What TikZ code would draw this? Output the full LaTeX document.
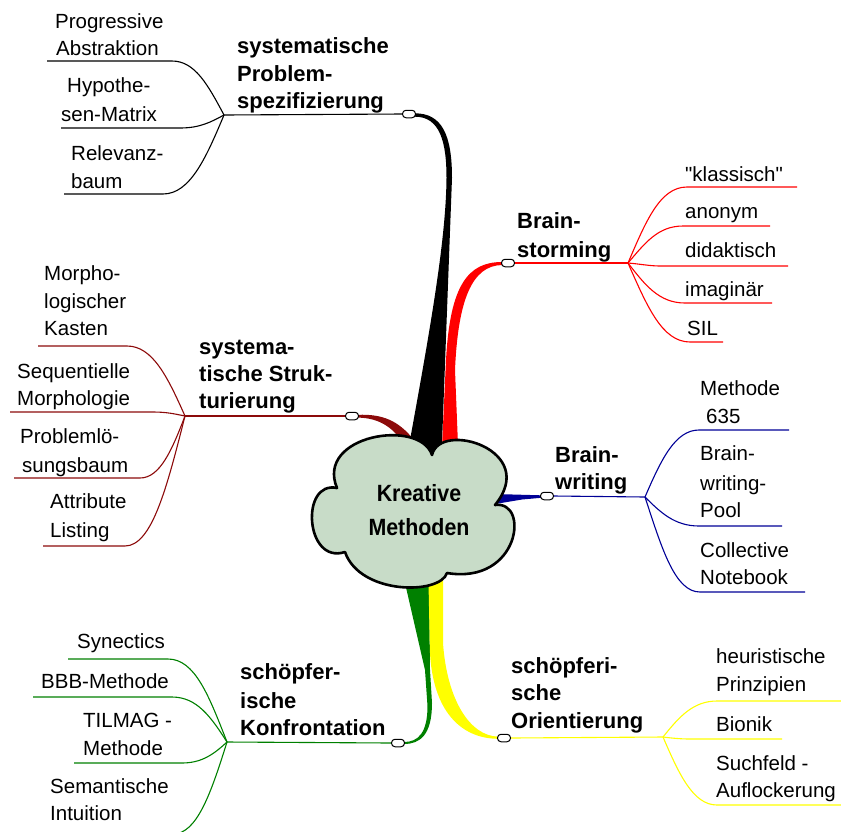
\documentclass[tikz,border=0pt]{standalone}
\usepackage{fontspec}
\usepackage{graphicx}
\setmainfont{Liberation Sans}
\usetikzlibrary{calc}
\definecolor{mred}{RGB}{255,0,0}
\definecolor{mdred}{RGB}{140,10,10}
\definecolor{mblue}{RGB}{0,0,150}
\definecolor{mgreen}{RGB}{0,128,0}
\definecolor{myellow}{RGB}{255,255,0}
\definecolor{cloudfill}{RGB}{200,220,200}
\begin{document}
\begin{tikzpicture}[x=1pt,y=-1pt,
 txt/.style={anchor=base west, inner sep=0pt, font=\fontsize{20.5}{24}\selectfont},
 lbl/.style={anchor=base west, inner sep=0pt, font=\fontsize{22}{26}\selectfont\bfseries},
 twig/.style={line width=1.1pt},
 knob/.style={draw=black, fill=white, rounded corners=3.5pt, minimum width=13pt, minimum height=7.5pt, inner sep=0pt, line width=1pt}]
\useasboundingbox (0,0) rectangle (841,831);

% ---- thick tapered branches ----
\fill[black] (415,113.3) .. controls (442,113.3) and (452,135) .. (452,178) -- (441,470) -- (404,470) -- (410,440) .. controls (430,330) and (446,240) .. (446.5,178) .. controls (446.5,142) and (440,116.7) .. (415,116.7) -- cycle;
\fill[mred] (502,262) .. controls (468,262) and (450,285) .. (446,360) -- (441,470) -- (459,470) -- (455,370) .. controls (458,300) and (472,265.5) .. (502,265) -- cycle;
\fill[mdred] (358,414.8) .. controls (382,414) and (398,420) .. (414,440) -- (404,444) .. controls (392,426) and (378,418) .. (358,417.6) -- cycle;
\fill[mblue] (541,495.3) -- (495,494) -- (495,504) -- (522,499.5) -- (541,497.8) -- cycle;
\fill[mgreen] (402,570) -- (429,570) -- (430,670) -- (432,703) .. controls (432,735) and (420,744) .. (404,744) -- (404,742) .. controls (418,742) and (427.5,733) .. (427.5,706) -- (425,670) -- cycle;
\fill[myellow] (428,560) -- (443,560) -- (443,643) .. controls (447,700) and (470,736) .. (498,736.6) -- (498,738.8) .. controls (460,738.5) and (433,710) .. (430,653) -- cycle;

% ---- cloud ----
\draw[line width=2.6pt, fill=cloudfill, line join=round] (432,455) .. controls (440,420) and (540,450) .. (495,505) .. controls (530,500) and (520,585) .. (447,573) .. controls (440,595) and (360,595) .. (345,552) .. controls (305,565) and (300,480) .. (337,488) .. controls (315,435) and (420,418) .. (432,455) -- cycle;
\node[font=\fontsize{23.5}{34}\selectfont\bfseries, align=center, inner sep=0pt] (core) at (419,510) {\scalebox{0.91}[1]{Kreative}\\\scalebox{0.91}[1]{Methoden}};

% ---- knobs ----
\node[knob] (k1) at (409,114) {};
\node[knob] (k2) at (508,263) {};
\node[knob] (k3) at (547,496) {};
\node[knob] (k4) at (504,738) {};
\node[knob] (k5) at (398,743) {};
\node[knob] (k6) at (352,416) {};

% ---- junctions ----
\coordinate (j1) at (224,115);
\coordinate (j2) at (628,263);
\coordinate (j3) at (645,497);
\coordinate (j4) at (663,737);
\coordinate (j5) at (227,742);
\coordinate (j6) at (185,416);

% ---- black group ----
\coordinate (s11) at (172,61);  \coordinate (e11) at (47,61);
\coordinate (s12) at (180,128); \coordinate (e12) at (61,128);
\coordinate (s13) at (163,194); \coordinate (e13) at (64,194);
\begin{scope}[twig, draw=black]
\draw (k1.west) -- (j1);
\draw (j1) .. controls (208,85) and (195,61) .. (s11) -- (e11);
\draw (j1) .. controls (211,122) and (200,128) .. (s12) -- (e12);
\draw (j1) .. controls (206,158) and (190,194) .. (s13) -- (e13);
\end{scope}

% ---- red group ----
\coordinate (s21) at (687,187); \coordinate (e21) at (797,187);
\coordinate (s22) at (683,226); \coordinate (e22) at (770,226);
\coordinate (s23) at (660,266); \coordinate (e23) at (788,266);
\coordinate (s24) at (685,303); \coordinate (e24) at (772,303);
\coordinate (s25) at (690,342); \coordinate (e25) at (723,342);
\begin{scope}[twig, draw=mred]
\draw (k2.east) -- (j2);
\draw (j2) .. controls (646,221) and (660,187) .. (s21) -- (e21);
\draw (j2) .. controls (645,243) and (658,226) .. (s22) -- (e22);
\draw (j2) .. controls (640,264) and (650,266) .. (s23) -- (e23);
\draw (j2) .. controls (645,285) and (659,303) .. (s24) -- (e24);
\draw (j2) .. controls (647,306) and (662,342) .. (s25) -- (e25);
\end{scope}

% ---- blue group ----
\coordinate (s31) at (699,430); \coordinate (e31) at (789,430);
\coordinate (s32) at (699,526); \coordinate (e32) at (782,526);
\coordinate (s33) at (700,592); \coordinate (e33) at (805,592);
\begin{scope}[twig, draw=mblue]
\draw (k3.east) -- (j3);
\draw (j3) .. controls (661,460) and (675,430) .. (s31) -- (e31);
\draw (j3) .. controls (661,513) and (675,526) .. (s32) -- (e32);
\draw (j3) .. controls (662,549) and (675,592) .. (s33) -- (e33);
\end{scope}

% ---- yellow group ----
\coordinate (s41) at (717,701); \coordinate (e41) at (841,701);
\coordinate (s42) at (690,739); \coordinate (e42) at (782,739);
\coordinate (s43) at (717,805); \coordinate (e43) at (841,805);
\begin{scope}[twig, draw=myellow]
\draw (k4.east) -- (j4);
\draw (j4) .. controls (679,717) and (693,701) .. (s41) -- (e41);
\draw (j4) .. controls (671,738) and (680,739) .. (s42) -- (e42);
\draw (j4) .. controls (679,774) and (693,805) .. (s43) -- (e43);
\end{scope}

% ---- green group ----
\coordinate (s51) at (168,659); \coordinate (e51) at (68,659);
\coordinate (s52) at (172,697); \coordinate (e52) at (33,697);
\coordinate (s53) at (182,763); \coordinate (e53) at (74,763);
\coordinate (s54) at (173,834); \coordinate (e54) at (45,834);
\begin{scope}[twig, draw=mgreen]
\draw (k5.west) -- (j5);
\draw (j5) .. controls (209,696) and (195,659) .. (s51) -- (e51);
\draw (j5) .. controls (211,717) and (197,697) .. (s52) -- (e52);
\draw (j5) .. controls (214,754) and (202,763) .. (s53) -- (e53);
\draw (j5) .. controls (211,793) and (197,834) .. (s54) -- (e54);
\end{scope}

% ---- dark red group ----
\coordinate (s61) at (127,346); \coordinate (e61) at (38,346);
\coordinate (s62) at (153,412); \coordinate (e62) at (10,412);
\coordinate (s63) at (140,478); \coordinate (e63) at (14,478);
\coordinate (s64) at (125,546); \coordinate (e64) at (43,546);
\begin{scope}[twig, draw=mdred]
\draw (k6.west) -- (j6);
\draw (j6) .. controls (168,378) and (153,346) .. (s61) -- (e61);
\draw (j6) .. controls (175,414) and (167,412) .. (s62) -- (e62);
\draw (j6) .. controls (172,450) and (160,478) .. (s63) -- (e63);
\draw (j6) .. controls (167,487) and (152,546) .. (s64) -- (e64);
\end{scope}

% ---- labels: black ----
\node[lbl] (l1a) at (237,53) {systematische};
\node[lbl] (l1b) at (237,81) {Problem-};
\node[lbl] (l1c) at (237,108) {spezifizierung};
\node[txt] (t1a) at (55,28) {Progressive};
\node[txt] (t1b) at (56,55) {Abstraktion};
\node[txt] (t2a) at (67,92) {Hypothe-};
\node[txt] (t2b) at (61,121) {sen-Matrix};
\node[txt] (t3a) at (71,160) {Relevanz-};
\node[txt] (t3b) at (71,188) {baum};

% ---- labels: red ----
\node[lbl] (l2a) at (517,228) {Brain-};
\node[lbl] (l2b) at (517,257) {storming};
\node[txt] (r1) at (685,181) {\addfontfeatures{Ligatures=TeXOff}"klassisch"};
\node[txt] (r2) at (685,218) {anonym};
\node[txt] (r3) at (685,257) {didaktisch};
\node[txt] (r4) at (685,296) {imaginär};
\node[txt] (r5) at (687,335) {SIL};

% ---- labels: blue ----
\node[lbl] (l3a) at (555,462) {Brain-};
\node[lbl] (l3b) at (555,489) {writing};
\node[txt] (b1a) at (700,395) {Methode};
\node[txt] (b1b) at (706,423) {635};
\node[txt] (b2a) at (700,460) {Brain-};
\node[txt] (b2b) at (700,490) {writing-};
\node[txt] (b2c) at (700,517) {Pool};
\node[txt] (b3a) at (700,557) {Collective};
\node[txt] (b3b) at (700,584) {Notebook};

% ---- labels: yellow ----
\node[lbl] (l4a) at (511,673) {schöpferi-};
\node[lbl] (l4b) at (511,700) {sche};
\node[lbl] (l4c) at (511,728) {Orientierung};
\node[txt] (y1a) at (716,663) {heuristische};
\node[txt] (y1b) at (716,691) {Prinzipien};
\node[txt] (y2) at (716,731) {Bionik};
\node[txt] (y3a) at (716,770) {Suchfeld -};
\node[txt] (y3b) at (716,797) {Auflockerung};

% ---- labels: green ----
\node[lbl] (l5a) at (240,679) {schöpfer-};
\node[lbl] (l5b) at (240,708) {ische};
\node[lbl] (l5c) at (240,735) {Konfrontation};
\node[txt] (g1) at (77,648) {Synectics};
\node[txt] (g2) at (41,688) {BBB-Methode};
\node[txt] (g3a) at (83,727) {TILMAG -};
\node[txt] (g3b) at (83,755) {Methode};
\node[txt] (g4a) at (50,793) {Semantische};
\node[txt] (g4b) at (50,820) {Intuition};

% ---- labels: dark red ----
\node[lbl] (l6a) at (199,354) {systema-};
\node[lbl] (l6b) at (199,381) {tische Struk-};
\node[lbl] (l6c) at (199,408) {turierung};
\node[txt] (d1a) at (44,280) {Morpho-};
\node[txt] (d1b) at (44,308) {logischer};
\node[txt] (d1c) at (44,335) {Kasten};
\node[txt] (d2a) at (17,378) {Sequentielle};
\node[txt] (d2b) at (17,405) {Morphologie};
\node[txt] (d3a) at (20,443) {Problemlö-};
\node[txt] (d3b) at (22,472) {sungsbaum};
\node[txt] (d4a) at (50,508) {Attribute};
\node[txt] (d4b) at (50,537) {Listing};
\end{tikzpicture}
\end{document}
